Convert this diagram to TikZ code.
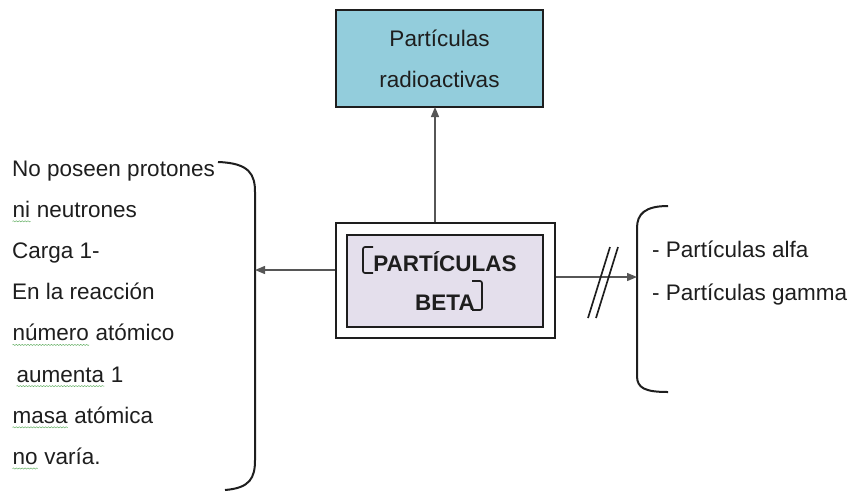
\documentclass[tikz,border=0pt]{standalone}
\usepackage{fontspec}
\setmainfont{Liberation Sans}
\usepackage{xcolor}
\usetikzlibrary{arrows.meta, decorations.pathmorphing}
\definecolor{skyfill}{RGB}{147,205,220}
\definecolor{lilacfill}{RGB}{228,223,236}
\definecolor{edge}{RGB}{30,30,30}
\definecolor{spellgreen}{RGB}{100,175,100}
\tikzstyle{arrow} = [line width=0.04cm, draw=edge!75, -{Triangle[length=0.3cm, width=0.24cm]}]
\tikzstyle{box} = [draw=edge, line width=0.045cm, rectangle]
\tikzstyle{brace} = [line width=0.06cm, draw=edge]
\newcommand{\spellmark}[1]{\tikz[baseline=(sw.base)]{\node[inner sep=0pt, anchor=base] (sw) {#1};
  \draw[spellgreen, line width=0.4pt, decorate, decoration={snake, amplitude=0.5pt, segment length=2.5pt}] ([yshift=-3.5pt]sw.base west) -- ([yshift=-3.5pt]sw.base east);}}

\begin{document}
\begin{tikzpicture}[x=0.03cm, y=-0.03cm, every node/.style={font=\fontsize{19.2}{35}\selectfont, text=edge}]
\useasboundingbox (0,0) rectangle (852,493);
% Boxes
\node (radio) [box, fill=skyfill, minimum width=6.21cm, minimum height=2.91cm, align=center] at (439.5,58.5) {Partículas\\radioactivas};
\node (outer) [box, fill=white, minimum width=6.57cm, minimum height=3.45cm] at (445.5,280.5) {};
\node (beta) [box, fill=lilacfill, minimum width=5.88cm, minimum height=2.76cm, align=center, font=\bfseries\fontsize{19.2}{33}\selectfont] at (445,281) {PARTÍCULAS\\BETA};
\draw[brace, line width=0.05cm, rounded corners=0.06cm] (373,247) -- (363,247) -- (363,273) -- (373,273);
\draw[brace, line width=0.05cm, rounded corners=0.06cm] (472,281) -- (482,281) -- (482,310) -- (472,310);

% Brackets
\draw[brace] (218,162) .. controls (250,163) and (255,175) .. (255,192) -- (255,460) .. controls (255,478) and (250,488) .. (225,490);
\draw[brace] (668,206) .. controls (645,206) and (637,214) .. (637,228) -- (637,376) .. controls (637,388) and (645,392) .. (668,392);

% Connectors
\coordinate (uptip) at (435,107);
\coordinate (lhook) at (255,270);
\coordinate (rhook) at (637,277);
\draw[arrow] (outer.north -| uptip) -- (uptip);
\draw[arrow] (outer.west |- lhook) -- (lhook);
\draw[arrow] (outer.east |- rhook) -- (rhook);
\draw[line width=0.05cm, draw=edge] (588,318) -- (610,247);
\draw[line width=0.05cm, draw=edge] (596,318) -- (618,247);

% Texts
\foreach \txt [count=\i] in {{No poseen protones}, {\spellmark{ni} neutrones}, {Carga 1-}, {En la reacción},
  {\spellmark{número} atómico}, {\hspace*{0.12cm}\spellmark{aumenta} 1}, {\spellmark{masa} atómica}, {\spellmark{no} varía.}}
  \node[anchor=base west, inner sep=0pt] (left\i) at (12,{176+41.2*(\i-1)}) {\txt};
\node[anchor=base west, inner sep=0pt] (alfa) at (652,257) {- Partículas alfa};
\node[anchor=base west, inner sep=0pt] (gamma) at (652,300) {- Partículas gamma};
\end{tikzpicture}
\end{document}
